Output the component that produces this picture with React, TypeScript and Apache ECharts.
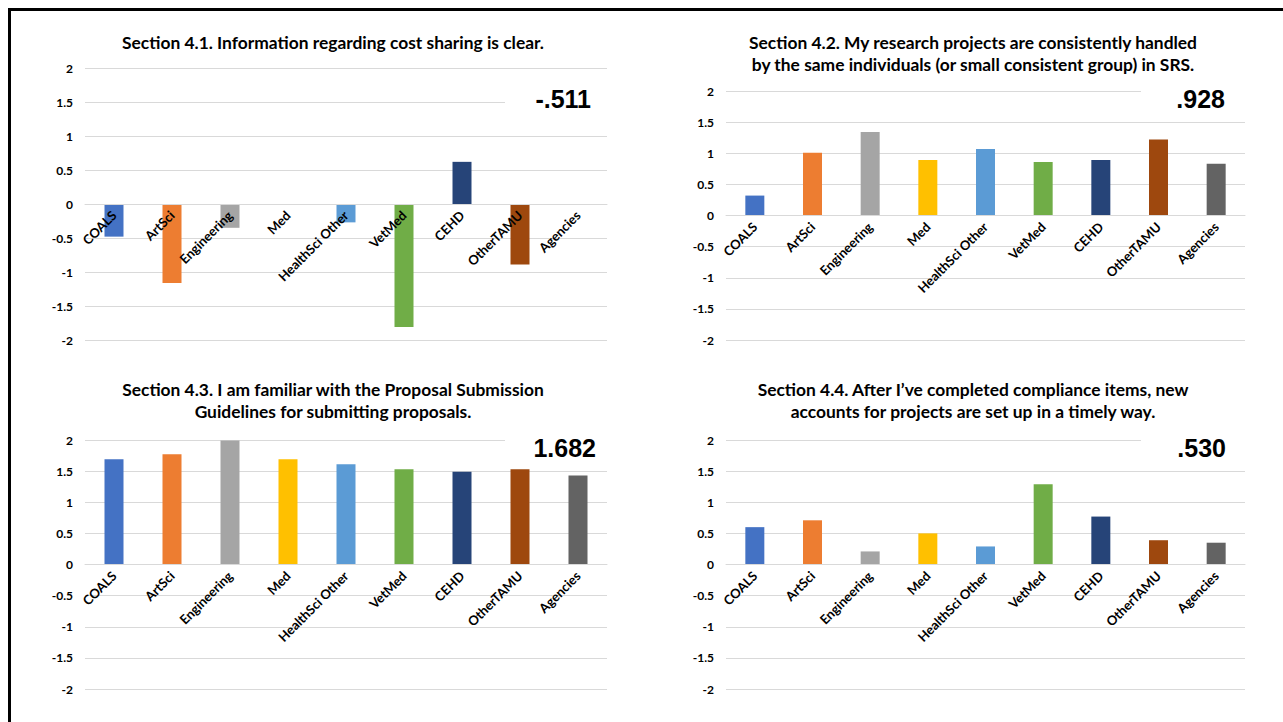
import React, { useEffect, useRef } from "react";
import * as echarts from "echarts";

const categories = ["COALS", "ArtSci", "Engineering", "Med", "HealthSci Other", "VetMed", "CEHD", "OtherTAMU", "Agencies"];
const barColors = ["#4472C4", "#ED7D31", "#A5A5A5", "#FFC000", "#5B9BD5", "#70AD47", "#264478", "#9E480E", "#636363"];

const values41 = [-0.48, -1.16, -0.35, 0, -0.27, -1.81, 0.62, -0.89, 0];
const values42 = [0.32, 1.01, 1.34, 0.89, 1.07, 0.86, 0.89, 1.22, 0.83];
const values43 = [1.69, 1.77, 1.99, 1.69, 1.61, 1.53, 1.49, 1.53, 1.43];
const values44 = [0.6, 0.71, 0.21, 0.5, 0.29, 1.29, 0.77, 0.39, 0.35];

const titles = [
  "Section 4.1. Information regarding cost sharing is clear.",
  "Section 4.2. My research projects are consistently handled\nby the same individuals (or small consistent group) in SRS.",
  "Section 4.3. I am familiar with the Proposal Submission\nGuidelines for submitting proposals.",
  "Section 4.4. After I\u2019ve completed compliance items, new\naccounts for projects are set up in a timely way.",
];
const overallScores = ["-.511", ".928", "1.682", ".530"];

const yMin = -2;
const yMax = 2;
const yInterval = 0.5;

const allValues = [values41, values42, values43, values44];

// layout (pixels)
const panels = [
  { left: 85, right: 607, top: 68, bottom: 340, titleX: 333, titleY: 42, numX: 591, numY: 99, cover: { x: 505, y: 80, w: 110, h: 42 } },
  { left: 726, right: 1245, top: 91, bottom: 340, titleX: 973, titleY: 53, numX: 1225, numY: 99, cover: { x: 1141, y: 82, w: 110, h: 34 } },
  { left: 85, right: 607, top: 440, bottom: 689, titleX: 333, titleY: 400, numX: 596, numY: 448, cover: { x: 505, y: 430, w: 110, h: 35 } },
  { left: 726, right: 1245, top: 440, bottom: 689, titleX: 973, titleY: 400, numX: 1226, numY: 448, cover: { x: 1141, y: 430, w: 110, h: 35 } },
];

export default function App() {
  const ref = useRef<HTMLDivElement>(null);
  useEffect(() => {
    if (!ref.current) return;
    const chart = echarts.init(ref.current, undefined, { renderer: "svg" });
    const grid = panels.map((p) => ({
      left: p.left,
      top: p.top,
      width: p.right - p.left,
      height: p.bottom - p.top,
      containLabel: false,
      outerBoundsMode: "none",
    }));
    const xAxis = panels.map((p, i) => {
      const h = p.bottom - p.top;
      // place the category axis (line + labels) at the value 0 of the y scale
      const zeroFromBottom = (h * (0 - yMin)) / (yMax - yMin);
      return {
        type: "category",
        gridIndex: i,
        data: categories,
        position: "bottom",
        offset: -zeroFromBottom,
        z: 5,
        axisTick: { show: false },
        axisLine: { show: true, onZero: false, lineStyle: { color: "#D9D9D9", width: 1 } },
        axisLabel: {
          rotate: 45,
          interval: 0,
          margin: 9,
          fontFamily: "Lato",
          fontWeight: "bold",
          fontSize: 13,
          color: "#000",
        },
      };
    });
    const yAxis = panels.map((_, i) => ({
      type: "value",
      gridIndex: i,
      min: yMin,
      max: yMax,
      interval: yInterval,
      axisLine: { show: false },
      axisTick: { show: false },
      splitLine: { show: true, lineStyle: { color: "#D9D9D9", width: 1 } },
      axisLabel: {
        margin: 12,
        fontFamily: "Lato",
        fontWeight: "bold",
        fontSize: 12,
        color: "#000",
      },
    }));
    const series = allValues.map((vals, i) => ({
      type: "bar",
      xAxisIndex: i,
      yAxisIndex: i,
      barWidth: 19,
      z: 2,
      data: vals.map((v, j) => ({ value: v, itemStyle: { color: barColors[j] } })),
    }));
    const graphics: any[] = [];
    panels.forEach((p, i) => {
      graphics.push({
        type: "rect",
        z: 50,
        shape: { x: p.cover.x, y: p.cover.y, width: p.cover.w, height: p.cover.h },
        style: { fill: "#fff" },
      });
      graphics.push({
        type: "text",
        z: 60,
        x: p.numX,
        y: p.numY,
        style: {
          text: overallScores[i],
          font: "bold 25px 'Liberation Sans', Arial, sans-serif",
          fill: "#000",
          textAlign: "right",
          align: "right",
          textVerticalAlign: "middle",
          verticalAlign: "middle",
        },
      });
      graphics.push({
        type: "text",
        z: 60,
        x: p.titleX,
        y: p.titleY,
        style: {
          text: titles[i],
          font: "bold 17.4px Lato, sans-serif",
          lineHeight: 22,
          fill: "#000",
          textAlign: "center",
          align: "center",
          textVerticalAlign: "middle",
          verticalAlign: "middle",
        },
      });
    });
    graphics.push({
      type: "rect",
      z: 70,
      shape: { x: 9.5, y: 9.5, width: 1400, height: 900 },
      style: { fill: "none", stroke: "#000", lineWidth: 3 },
    });
    chart.setOption({
      animation: false,
      backgroundColor: "#fff",
      grid,
      xAxis,
      yAxis,
      series,
      graphic: { elements: graphics },
    });
    return () => chart.dispose();
  }, []);
  return (
    <div
      ref={ref}
      style={{ position: "fixed", left: 0, top: 0, width: 1283, height: 722, background: "#fff" }}
    />
  );
}
